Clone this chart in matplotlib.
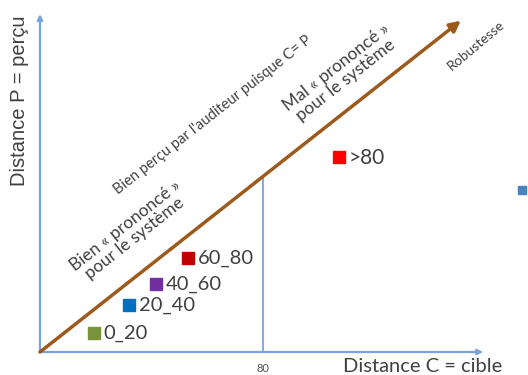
import matplotlib.pyplot as plt

# classes de distance : position (C = cible, P = perçu)
categories = ['0_20', '20_40', '40_60', '60_80', '>80']
c_vals = [19.4, 31.9, 41.6, 53.1, 107.3]
p_vals = [8.7, 21.4, 31.0, 42.8, 88.9]
couleurs = ['#77933c', '#0070c0', '#7030a0', '#c00000', '#ff0000']
seuil = 80
diag_max = 151

W, H = 528, 375
fig = plt.figure(figsize=(W / 100, H / 100), dpi=100)
ax = fig.add_axes([0, 0, 1, 1])
ax.set_xlim(-14.35, 175.07)
ax.set_ylim(-10.48, 160.4)
ax.axis('off')

gris = '#404040'
bleu = '#7ba3d8'


def fpos(px, py):
    # position en fraction de figure depuis des pixels de l'image
    return px / W, 1 - py / H


# axes avec flèches
ax.annotate('', xy=(159, 0), xytext=(0, 0),
            arrowprops=dict(arrowstyle='-|>', color=bleu, lw=1.6, mutation_scale=8,
                            shrinkA=0, shrinkB=0))
ax.annotate('', xy=(0, 154), xytext=(0, 0),
            arrowprops=dict(arrowstyle='-|>', color=bleu, lw=1.6, mutation_scale=8,
                            shrinkA=0, shrinkB=0))
ax.plot([seuil, seuil], [0, seuil], color=bleu, lw=1.3)

# diagonale C = P
ax.annotate('', xy=(diag_max, diag_max), xytext=(0, 0),
            arrowprops=dict(arrowstyle='-|>', color='#9c5a1c', lw=2.5, mutation_scale=16,
                            shrinkA=0, shrinkB=0))

# points
for cat, c, p, col in zip(categories, c_vals, p_vals, couleurs):
    ax.plot(c, p, 's', color=col, markersize=9 if cat == '>80' else 8.5)
    ax.annotate(cat, (c, p), xytext=(7, -0.5), textcoords='offset points',
                ha='left', va='center', color=gris, family='Lato',
                fontsize=15 if cat == '>80' else 14.5)

# marqueur coupé à droite
ax.plot(173, 73.8, 's', color='#4f81bd', markersize=6, clip_on=False)

# textes
fig.text(*fpos(20, 101), 'Distance P = perçu', rotation=90, ha='center', va='center',
         color=gris, family='Liberation Sans', fontsize=14.5)
fig.text(*fpos(423, 367), 'Distance C = cible', ha='center', va='center',
         color=gris, family='Lato', fontsize=14.5)
fig.text(*fpos(263, 368), str(seuil), ha='center', va='center',
         color='#505050', family='Lato', fontsize=8)

ang = 38.2
fig.text(*fpos(213, 115), "Bien perçu par l'auditeur puisque C= P", rotation=ang,
         rotation_mode='anchor', ha='center', va='center', color=gris,
         family='Lato', fontsize=10.5)
fig.text(*fpos(130, 232), 'Bien « prononcé »\npour le système', rotation=ang,
         rotation_mode='anchor', ha='center', va='center', color=gris,
         family='Lato', fontsize=12.5, linespacing=1.0)
fig.text(*fpos(341, 74), 'Mal « prononcé »\npour le système', rotation=ang,
         rotation_mode='anchor', ha='center', va='center', color=gris,
         family='Lato', fontsize=12.5, linespacing=1.0)
fig.text(*fpos(476, 45), 'Robustesse', rotation=40,
         rotation_mode='anchor', ha='center', va='center', color=gris,
         family='Lato', fontsize=10)

fig.savefig('out.png', dpi=100)
